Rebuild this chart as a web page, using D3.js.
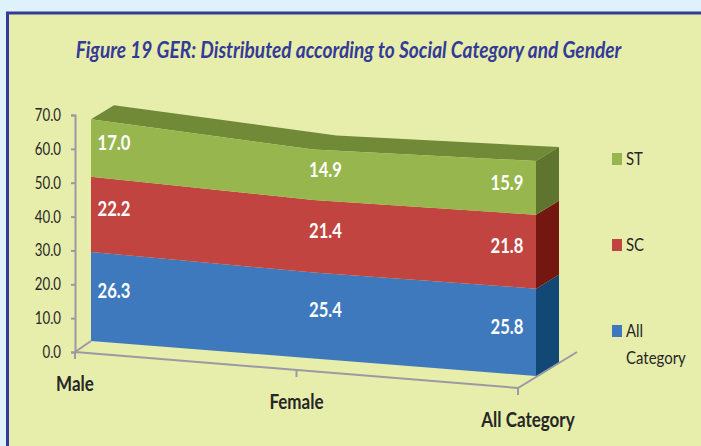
<!DOCTYPE html>
<html><head><meta charset="utf-8">
<script src="https://cdn.jsdelivr.net/npm/d3@7"></script>
<style>html,body{margin:0;padding:0;background:#dff2fc;overflow:hidden}svg{display:block}text{font-family:Lato,"Open Sans",sans-serif}</style>
</head><body><svg id="c" width="701" height="446"></svg>
<script>
const title = "Figure 19 GER: Distributed according to Social Category and Gender";
const categories = ["Male", "Female", "All Category"];
const seriesNames = ["All Category", "SC", "ST"];
const allCategory = [26.3, 25.4, 25.8];
const sc = [22.2, 21.4, 21.8];
const st = [17.0, 14.9, 15.9];
const yTicks = [0, 10, 20, 30, 40, 50, 60, 70];
const seriesValues = [allCategory, sc, st];
const frontColors = ["#3e79bd", "#c14440", "#97b74e"];
const sideColors = ["#124876", "#741711", "#5f742f"];
const topColor = "#718a38";
const ink = "#262626", axisGray = "#9a9aa3", titleBlue = "#333a97";

const svg = d3.select("#c");
const squeeze = (sel, k) => sel.each(function () {
  this.setAttribute("textLength", this.getComputedTextLength() * k);
  this.setAttribute("lengthAdjust", "spacingAndGlyphs");
});

// frame
svg.append("rect").attr("x", 7.5).attr("y", 13).attr("width", 720).attr("height", 460)
  .attr("fill", "#e7edab").attr("stroke", titleBlue).attr("stroke-width", 3);
svg.append("text").attr("x", 348.5).attr("y", 58).attr("text-anchor", "middle")
  .attr("font-size", 23).attr("font-weight", 700).attr("font-style", "italic")
  .attr("fill", titleBlue).text(title).call(squeeze, 0.83);

// scales
const y = d3.scaleLinear().domain([0, 70]).range([352, 115]);
const xFloor = d3.scalePoint().domain(categories).range([75, 518]);
const floorY = d3.scaleLinear().domain([75, 518]).range([352, 388]);
const xFront = d3.scalePoint().domain(categories).range([91, 536]);
const baseY = d3.scaleLinear().domain([91, 536]).range([341, 376]);
const depth = { x: 23, y: -14 };
const ground = y(0);
const stacks = d3.stack().keys(d3.range(seriesValues.length)).value((d, k) => seriesValues[k][d])(d3.range(categories.length));
const px = (i, v, back) => {
  const x0 = xFront(categories[i]);
  return [x0 + (back ? depth.x : 0), y(v) + baseY(x0) - ground + (back ? depth.y : 0)];
};
const line = d3.line();

// floor
const floorPts = [[xFloor(categories[0]), ground],
  [xFloor(categories[2]), floorY(xFloor(categories[2]))],
  [577, 352]];
svg.append("path").attr("d", line(floorPts)).attr("fill", "none").attr("stroke", axisGray).attr("stroke-width", 2);
svg.append("path").attr("d", line([[xFloor(categories[0]), ground], px(0, 0, false)])).attr("stroke", axisGray).attr("stroke-width", 2);
categories.forEach(c => {
  const fx = xFloor(c), fy = floorY(fx);
  svg.append("line").attr("x1", fx).attr("x2", fx).attr("y1", fy).attr("y2", fy + 7).attr("stroke", axisGray).attr("stroke-width", 2);
});

// y axis
const ax = svg.append("g").attr("transform", `translate(${xFloor(categories[0])},0)`)
  .call(d3.axisLeft(y).tickValues(yTicks).tickFormat(d3.format(".1f")).tickSize(4).tickPadding(10));
ax.selectAll("path,line").attr("stroke", axisGray).attr("stroke-width", 2);
ax.selectAll("text").attr("font-size", 17).attr("font-family", "Lato").attr("fill", ink).call(squeeze, 0.78);

// top face
const last = stacks[stacks.length - 1];
const idx = d3.range(categories.length);
svg.append("path").attr("fill", topColor).attr("d",
  line([...idx.map(i => px(i, last[i][1], false)), ...idx.slice().reverse().map(i => px(i, last[i][1], true))]) + "Z");

// series faces
stacks.forEach((s, k) => {
  svg.append("path").attr("fill", frontColors[k]).attr("d",
    line([...idx.map(i => px(i, s[i][1], false)), ...idx.slice().reverse().map(i => px(i, s[i][0], false))]) + "Z");
  const e = idx.length - 1;
  svg.append("path").attr("fill", sideColors[k]).attr("d",
    line([px(e, s[e][0], false), px(e, s[e][1], false), px(e, s[e][1], true), px(e, s[e][0], true)]) + "Z");
});

// value labels
const labelDx = [23, 12, -29];
stacks.forEach((s, k) => idx.forEach(i => {
  const p0 = px(i, s[i][0]), p1 = px(i, s[i][1]);
  svg.append("text").attr("x", p0[0] + labelDx[i]).attr("y", (p0[1] + p1[1]) / 2 - 5.5)
    .attr("dy", "0.36em").attr("text-anchor", "middle").attr("font-size", 20).attr("font-weight", 700)
    .attr("fill", "#fff").text(seriesValues[k][i].toFixed(1)).call(squeeze, 0.83);
}));

// category labels
const catDx = [0, 0, 10];
categories.forEach((c, i) => {
  const fx = xFloor(c);
  svg.append("text").attr("x", fx + catDx[i]).attr("y", floorY(fx) + 39).attr("text-anchor", "middle")
    .attr("font-size", 20).attr("font-weight", 700).attr("fill", ink).text(c).call(squeeze, 0.85);
});

// legend
const legendY = d3.scalePoint().domain(seriesNames).range([331, 159]);
seriesNames.forEach((n, k) => {
  const ly = legendY(n);
  svg.append("rect").attr("x", 612).attr("y", ly - 6).attr("width", 10).attr("height", 12).attr("fill", frontColors[k]);
  const words = n === "All Category" ? n.split(" ") : [n];
  words.forEach((w, j) => svg.append("text").attr("x", 626).attr("y", ly + 6 + j * 27)
    .attr("font-size", 18).attr("fill", ink).text(w).call(squeeze, 0.83));
});
</script></body></html>
